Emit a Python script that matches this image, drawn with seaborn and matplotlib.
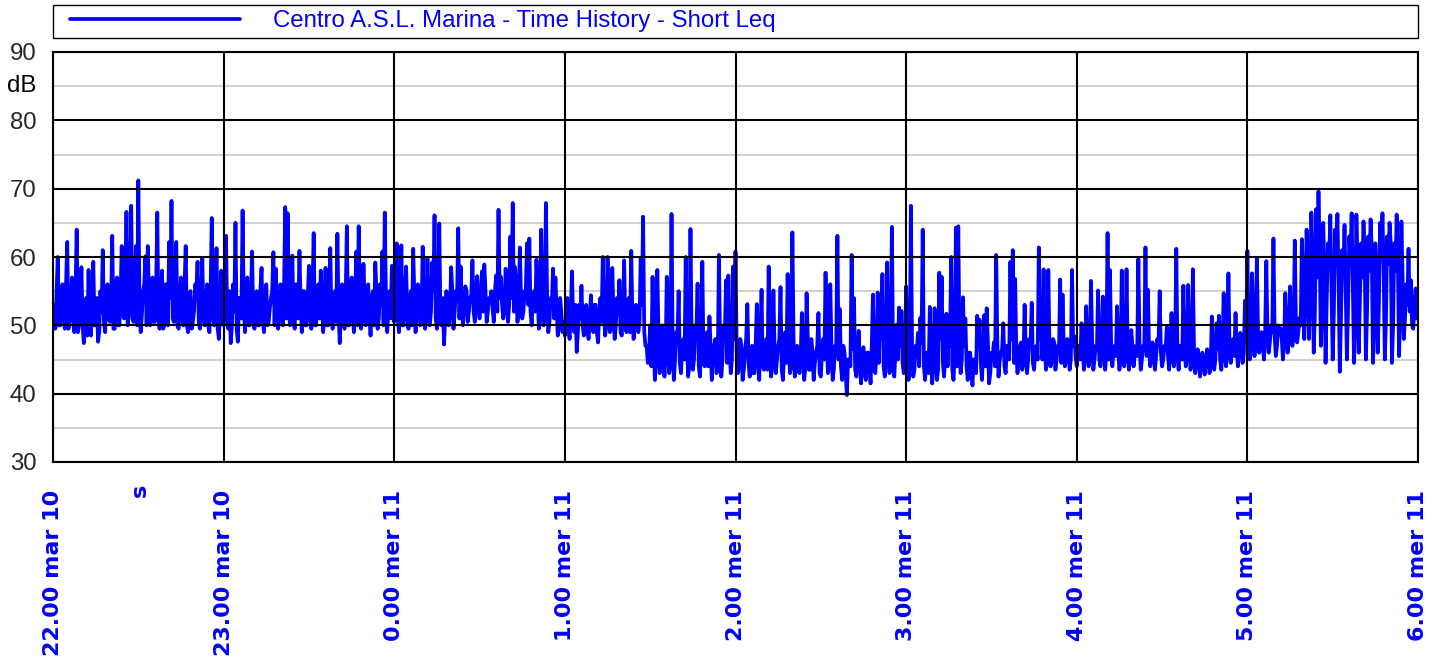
import matplotlib
matplotlib.use("Agg")
import matplotlib.pyplot as plt
import pandas as pd
import seaborn as sns

# Short Leq. Each hour has 72 readings at 50 s steps (hXX)
# plus the 72 readings that fall between them (hXXb); together one every 25 s.
h22 = [53, 49.5, 60.0, 50, 56, 49.5, 62.2, 50.5, 57, 49, 64.0, 50, 58.5, 47.4, 54, 58.1, 48.5, 59.3,
       50, 47.6, 55, 61.0, 49, 56, 50.5, 63.1, 49.5, 57, 50, 61.6, 51, 66.6, 52, 67.5, 50.5, 61.6,
       71.2, 49, 55, 60.1, 61.6, 50, 57, 50.5, 66.5, 49.5, 58, 50, 56, 62.2, 68.2, 50.5, 62.2, 49.5,
       57, 50, 61.6, 49, 55, 50.5, 56, 59.3, 49.5, 59.8, 50, 56, 49, 65.7, 50, 61.3, 48, 58]
h22b = [52, 55, 50, 54, 51, 56, 49.5, 53, 51, 55, 49, 54, 50, 52, 48.5, 51, 53, 50,
        54, 49, 52, 50.5, 55, 51, 53, 49.5, 56, 50, 54, 51.5, 55, 50, 57, 51, 54, 50,
        53, 51.5, 56, 50, 54, 52, 50.5, 55, 51, 53, 49.5, 56, 50, 54, 51, 55, 50, 53.5,
        51, 56, 50, 54, 49.5, 52, 55, 50.5, 54, 51, 53, 50, 55, 51.5, 54, 49.5, 53, 51]
h23 = [50, 63.1, 49.5, 47.4, 56, 65.0, 47.6, 54, 66.8, 49, 57, 50, 60.8, 49.5, 55, 50, 58.4, 49,
       56, 50.5, 54, 60.7, 58.3, 49.5, 56, 50, 67.3, 66.4, 50, 60.2, 49.5, 56, 60.9, 49, 55, 50,
       58.7, 49.5, 63.5, 50, 56, 58, 49, 58.4, 50, 61.3, 49.5, 55, 63.4, 47.4, 56, 49.5, 64.5, 50,
       57, 49, 60.8, 64.5, 49.5, 59.0, 50, 56, 48.5, 55, 59.2, 49.5, 56, 60.8, 66.5, 49, 55, 58.7]
h23b = [54, 51, 55, 50, 52, 49.5, 54, 51, 53, 55, 50, 54, 51, 53, 50, 55, 51, 54,
        50, 52.5, 55, 50, 53, 51, 54, 55.5, 51, 53, 54, 50.5, 56, 51, 53, 55, 50, 54,
        51.5, 55, 50, 53, 51, 54, 52, 50, 55, 51, 54, 50.5, 52, 55, 51, 54, 50, 53,
        51.5, 55, 50, 53, 51, 54, 50.5, 52, 54, 50, 55, 51, 53, 50, 54, 52, 51, 54]
h00 = [50.5, 62.0, 49, 61.7, 50, 58.6, 49.5, 55, 61.2, 49, 56, 50, 61.5, 49.5, 59.8, 50, 59.2, 66.1,
       49.5, 64.9, 50, 47.2, 55, 50, 58.5, 49.5, 55, 64.2, 58.6, 50, 55.7, 50.5, 54, 59.5, 50.5, 57.2,
       51, 57.9, 58.9, 50.5, 54, 55.0, 50.5, 57.3, 66.9, 57.1, 51, 58.3, 50.5, 63.0, 67.9, 58.5, 50.5, 61.4,
       51, 55, 62.0, 62.7, 50, 55, 59.6, 49.5, 64.0, 50, 67.9, 49, 54, 58.3, 57.0, 48.5, 54, 49]
h00b = [53, 51, 55, 50, 54, 51.5, 53, 50, 54, 52, 55, 50.5, 53, 51, 54, 52, 55, 51,
        53, 50.5, 54, 51, 53, 51.5, 55, 52, 54, 51, 53, 52.5, 55, 52, 54.5, 52, 55, 52.5,
        54, 52, 55, 52, 53.5, 52.5, 55, 52, 54, 53, 52, 55, 53, 54, 52, 55, 52.5, 54,
        52, 55, 53, 52, 54.5, 52, 55, 51.5, 53, 52, 54, 50.5, 53, 51, 52.5, 50, 52, 50.5]
h01 = [48.5, 54, 48, 57.9, 49, 46.1, 53, 55.8, 48.5, 53, 48, 54.4, 49, 53, 47.5, 54, 60.0, 48.5,
       60.0, 49, 58.4, 48, 54, 56.6, 48.5, 59.5, 49, 54, 60.9, 48, 53, 49, 59.8, 65.9, 47, 44.5,
       50, 57.1, 42, 58.1, 43, 50, 42.5, 57.1, 43, 66.3, 42, 49, 55.0, 43, 48, 60.0, 42.5, 64.1,
       43.5, 50, 56.1, 42.5, 59.3, 44, 49, 51.3, 42, 47, 43, 60.3, 42.5, 50, 56.6, 57.3, 43, 58.6]
h01b = [51, 49.5, 52, 50, 53, 49, 51, 50, 52.5, 49.5, 51, 50, 53, 49, 52, 50.5, 52, 50,
        53, 49.5, 52, 50, 51.5, 49, 52, 50.5, 53, 49, 51, 50, 52, 50.5, 53, 49, 47, 46,
        44, 47, 45, 49, 44, 47, 45.5, 48, 44, 47, 45, 48.5, 44.5, 47, 45, 48, 44, 47.5,
        45, 49, 44, 46.5, 45, 48, 44, 47, 45.5, 48, 44, 47, 45, 48.5, 44.5, 47, 45, 48]
h02 = [60.8, 43, 48, 42, 46, 53.1, 42.5, 47, 43, 53.1, 42, 55.2, 43.5, 48, 58.6, 42.5, 55.1, 43,
       47, 55.6, 42, 49, 57.5, 43, 63.6, 42.5, 47, 43, 51.8, 42, 54.7, 43.5, 48, 42, 46, 51.8,
       42.5, 48, 57.7, 43, 56, 42, 47, 63.1, 52.4, 42, 46, 39.8, 45, 60.3, 54.0, 42.5, 49.2, 41.5,
       46.8, 42, 46, 41.5, 54.5, 43, 54.8, 52.7, 57.5, 42.5, 59.2, 43, 64.4, 42.5, 50.1, 52.6, 52.1, 43]
h02b = [46, 44, 47, 43.5, 48, 44.5, 46, 43, 47, 45, 48, 44, 46.5, 43.5, 47, 44, 46, 45,
        48, 43.5, 46, 44.5, 47, 44, 48, 43.5, 46, 45, 47, 44, 48.5, 43.5, 46, 44.5, 47, 43,
        46, 45, 48, 44, 46.5, 43.5, 47, 45, 44, 47, 43, 45, 44, 46.5, 43.5, 46, 44, 45.5,
        43, 46, 44, 47, 43.5, 46, 44.5, 48, 44, 46.5, 45, 48, 44, 46, 45, 47, 44.5, 46]
h03 = [55.7, 42, 67.5, 42.5, 47, 48.9, 51.1, 64, 42, 45.9, 52.7, 41.5, 52.5, 42, 57.7, 57.1, 42.5, 51.7,
       50.1, 60.0, 42, 64.3, 64.5, 43, 54.1, 51.0, 42, 46, 41.2, 45, 51.4, 50.8, 42, 51.5, 52.5, 41.5,
       46, 47.5, 60.3, 42.5, 46, 50.3, 43, 47, 59.3, 61.0, 56.8, 43, 47, 43.5, 53.0, 43, 48, 53.3,
       43.5, 47, 61.4, 51.5, 58.2, 43.5, 58.1, 44, 48, 43.5, 47, 56.7, 54.5, 44, 48, 43.5, 58.1, 48.4]
h03b = [46, 44, 47, 43.5, 46, 44, 47.5, 44, 46, 43, 47, 44, 46.5, 43.5, 48, 44.5, 46, 44,
        47, 43.5, 46, 44, 48, 45, 47, 44, 46, 43.5, 45, 43, 47, 44.5, 46, 44, 47.5, 43,
        45, 44, 47, 45, 46.5, 44, 47, 45, 48, 44.5, 46, 45, 47.5, 44.5, 46, 45, 47, 44.5,
        46.5, 45, 48, 45, 47, 44.5, 46.5, 45, 47.5, 45, 46, 44.5, 47, 45, 46.5, 45, 47, 45.5]
h04 = [44, 47, 50.3, 43.5, 52.8, 44, 56.5, 43.5, 47, 55.1, 44, 54.2, 43.5, 63.5, 58.1, 44, 47, 52.8,
       43.5, 58.0, 44, 58.2, 43.5, 49.3, 44, 47, 59.7, 43.5, 47, 61.4, 55.2, 44, 47.5, 43.5, 48, 55.0,
       44, 47, 49.8, 43.5, 51.8, 44, 61.2, 43.5, 47, 55.8, 44, 55.9, 43.5, 58.2, 43, 46.5, 42.5, 46,
       42.8, 46.5, 43, 51.3, 43.5, 50.3, 51.4, 43.5, 54.7, 44, 57.6, 44.5, 48, 51.8, 44, 48.9, 44.5, 53.6]
h04b = [46, 45, 47, 45.5, 46, 45, 47.5, 45, 46.5, 45, 47, 45.5, 46, 45, 47.5, 46, 45.5, 46.5,
        45, 47, 45.5, 46, 45, 47, 46, 45.5, 47, 45, 46.5, 45.5, 47, 45, 46, 45.5, 47, 46,
        45, 46.5, 45.5, 47, 45, 46.5, 45.5, 47, 45, 46.5, 45.5, 47, 45, 46, 44.5, 45.5, 44, 45,
        44.5, 45.5, 44, 46, 45, 46.5, 45, 47, 45.5, 46.5, 46, 47.5, 45.5, 47, 46, 47.5, 46, 48]
h05 = [60.9, 45, 57.6, 45.5, 59.8, 46, 49, 45, 59.4, 46, 50, 62.7, 45.5, 50, 49.6, 45, 54.7, 46,
       55.7, 47, 62.4, 47.5, 51.1, 62.6, 48, 64.0, 48, 66.5, 46, 67.0, 69.6, 47, 65.0, 44.5, 62, 66.1,
       45, 64.0, 66.3, 43.2, 61, 64.7, 45, 63, 66.4, 44.5, 66.2, 46, 62, 65.2, 45, 63, 65.5, 44.5,
       62, 46, 65.0, 66.4, 45, 63, 65.0, 44.5, 62, 66.2, 45.5, 65.2, 48, 56, 61.2, 56.6, 49.5, 55.4]
h05b = [49, 47, 50, 47.5, 49, 48, 47, 49, 48, 47.5, 49, 48.5, 47, 49.5, 48, 47.5, 50, 48,
        49, 48.5, 50, 49, 50, 56, 54, 58, 55, 60, 52, 57, 61, 53, 58, 54, 59, 55,
        52, 60, 56, 51, 58, 55, 53, 60, 56, 50, 59, 54, 57, 60, 52, 58, 61, 50,
        57, 53, 60, 58, 51, 59, 62, 50, 58, 60, 52, 57, 51, 53, 52, 50, 53, 51]
last_value = [52]

hour_labels = ["22.00 mar 10", "23.00 mar 10", "0.00 mer 11", "1.00 mer 11", "2.00 mer 11",
               "3.00 mer 11", "4.00 mer 11", "5.00 mer 11", "6.00 mer 11"]
y_major = [30, 40, 50, 60, 70, 80, 90]
y_minor = [35, 45, 55, 65, 75, 85]
series_name = "Centro A.S.L. Marina - Time History - Short Leq"

leq = []
for main, mid in [(h22, h22b), (h23, h23b), (h00, h00b), (h01, h01b),
                  (h02, h02b), (h03, h03b), (h04, h04b), (h05, h05b)]:
    for a, b in zip(main, mid):
        leq += [a, b]
leq += last_value

times = pd.date_range("2009-03-10 22:00", periods=len(leq), freq="25s")
hours = pd.date_range("2009-03-10 22:00", periods=len(hour_labels), freq="h")
df = pd.DataFrame({"time": times, "leq": leq})

sns.set_style("white")
plt.rcParams["font.family"] = ["Liberation Sans", "DejaVu Sans"]

blue = "#0000ff"
fig = plt.figure(figsize=(14.42, 6.59), dpi=100)
ax = fig.add_axes([53 / 1442, 1 - 462 / 659, 1365 / 1442, 410 / 659])

sns.lineplot(data=df, x="time", y="leq", ax=ax, color=blue, lw=2.7,
             estimator=None, label=series_name, zorder=2)

# grid: grey halves under the trace, black majors over it
ax.set_yticks(y_minor, minor=True)
ax.grid(True, which="minor", axis="y", color="#c8c8c8", lw=1.2)
ax.set_axisbelow(True)
for v in y_major:
    ax.axhline(v, color="black", lw=1.5, zorder=3)
for t in hours:
    ax.axvline(t, color="black", lw=1.5, zorder=3)

ax.set_xlim(hours[0], hours[-1])
ax.set_ylim(30, 90)
ax.set_yticks(y_major)
ax.set_yticklabels([str(v) for v in y_major], fontsize=17.3)
ax.set_xticks(hours)
ax.set_xticklabels(hour_labels, rotation=90, fontsize=16, fontweight="bold",
                   color=blue, family="DejaVu Sans")
ax.tick_params(axis="both", which="major", length=11, width=1.2, color="#666666")
ax.tick_params(axis="x", pad=9)
ax.tick_params(axis="y", pad=1)
ax.tick_params(which="minor", length=0)
ax.set_xlabel("")
ax.set_ylabel("")
for s in ax.spines.values():
    s.set_color("black")
    s.set_linewidth(1.5)
    s.set_zorder(4)

ax.text(-0.012, (85 - 30) / 60, "dB", transform=ax.transAxes, ha="right", va="center",
        fontsize=17.3, color="black")
fig.text(140 / 1442, 1 - 484 / 659, "s", rotation=90, ha="center", va="top",
         fontsize=16, fontweight="bold", color=blue, family="DejaVu Sans")

# legend strip above the plot
fig.add_artist(plt.Rectangle((53 / 1442, 1 - 38 / 659), 1365 / 1442, 33 / 659,
                             transform=fig.transFigure, fill=False, ec="black", lw=1))
fs_px = 17.3 * 100 / 72
leg = ax.legend(loc="center left", bbox_to_anchor=((70 - 53) / 1365, (462 - 21) / 410),
                frameon=False, fontsize=17.3, borderpad=0, borderaxespad=0,
                handlelength=170 / fs_px, handletextpad=33 / fs_px)
for txt in leg.get_texts():
    txt.set_color(blue)

fig.savefig("out.png", dpi=100)
plt.close(fig)
